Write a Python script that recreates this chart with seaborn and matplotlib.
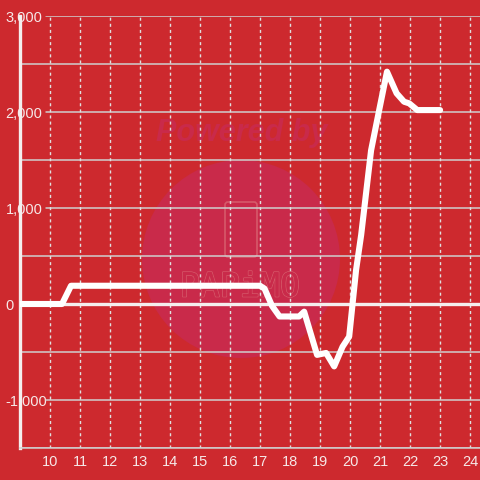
import matplotlib
matplotlib.use("Agg")
import matplotlib.pyplot as plt
import matplotlib.patheffects as pe
from matplotlib.transforms import IdentityTransform
from matplotlib.patches import Circle, FancyBboxPatch
import seaborn as sns
import pandas as pd

# values
hours = [9.0, 10.4, 10.7, 17.0, 17.15, 17.4, 17.65, 18.3, 18.47, 18.9, 19.2,
         19.47, 19.75, 19.97, 20.2, 20.37, 20.7, 20.97, 21.23, 21.55, 21.8,
         21.97, 22.24, 23.0]
values = [0, 0, 190, 190, 160, -20, -130, -130, -80, -530, -510,
          -650, -445, -340, 354, 720, 1600, 2020, 2420, 2195, 2107,
          2090, 2020, 2020]
xticks = list(range(10, 25))
yticks = [-1000, 0, 1000, 2000, 3000]

bg = "#cd292e"
label_col = "#f6e8e8"
wm_col = "#c92a4a"

sns.set_style("white")
plt.rcParams["font.family"] = ["Liberation Sans", "DejaVu Sans"]

df = pd.DataFrame({"hour": hours, "value": values})

fig = plt.figure(figsize=(4.8, 4.8), dpi=100, facecolor=bg)
ax = fig.add_axes([20 / 480, 32 / 480, 460 / 480, 432 / 480])
ax.set_facecolor(bg)

# watermark, pixel coordinates (origin bottom left)
px = IdentityTransform()
ax.add_patch(Circle((241, 480 - 259), 99, transform=px, facecolor=wm_col,
                    edgecolor="none", zorder=0.5))
ax.text(242, 480 - 133, "Powered by", transform=px, ha="center", va="center",
        fontsize=22, fontweight="bold", style="italic", color=wm_col,
        zorder=0.6)
ax.add_patch(FancyBboxPatch((225, 480 - 257), 32, 55, transform=px,
                            boxstyle="round,pad=0,rounding_size=3",
                            facecolor="none", edgecolor="#d65a6a",
                            lw=1.2, zorder=0.6))
wm = ax.text(240, 480 - 287, "PAPiMO", transform=px, ha="center",
             va="center", fontsize=24, color=wm_col, zorder=0.6,
             family="DejaVu Sans Mono")
wm.set_path_effects([pe.withStroke(linewidth=1.2, foreground="#d65a6a"),
                     pe.Normal()])

# grid
for y in [-1500, -500, 500, 1500, 2500]:
    ax.axhline(y, color="#cfcfcf", lw=1.1, zorder=1)
for y in [-1000, 1000, 2000, 3000]:
    ax.axhline(y, xmin=26 / 460, color="#cfcfcf", lw=1.1, zorder=1)
for x in xticks:
    ax.axvline(x, color="#e0e0e0", lw=1, ls=(0, (2.2, 2.2)), zorder=1)
ax.axhline(0, color="#f4eeee", lw=2.4, zorder=1.5)

sns.lineplot(data=df, x="hour", y="value", ax=ax, color="white", lw=4.4,
             zorder=3)

ax.set_xlim(9.0, 24.33)
ax.set_ylim(-1500, 3000)
ax.set_xticks(xticks)
ax.set_yticks(yticks)
ax.set_xticklabels([str(x) for x in xticks])
ax.set_yticklabels([f"{y:,}" for y in yticks])
ax.set_xlabel("")
ax.set_ylabel("")

ax.tick_params(axis="y", length=0, pad=10.5, labelsize=10.5, labelcolor=label_col)
ax.tick_params(axis="x", length=0, pad=5, labelsize=10.5, labelcolor=label_col)
for lbl in ax.get_yticklabels():
    lbl.set_horizontalalignment("left")
    lbl.set_bbox(dict(facecolor=bg, edgecolor="none", pad=1.5))

for s in ["top", "right"]:
    ax.spines[s].set_visible(False)
ax.spines["left"].set_color("#f4eeee")
ax.spines["left"].set_linewidth(2.4)
ax.spines["bottom"].set_color("#cfcfcf")
ax.spines["bottom"].set_linewidth(1.1)

fig.savefig("out.png", dpi=100, facecolor=bg)
